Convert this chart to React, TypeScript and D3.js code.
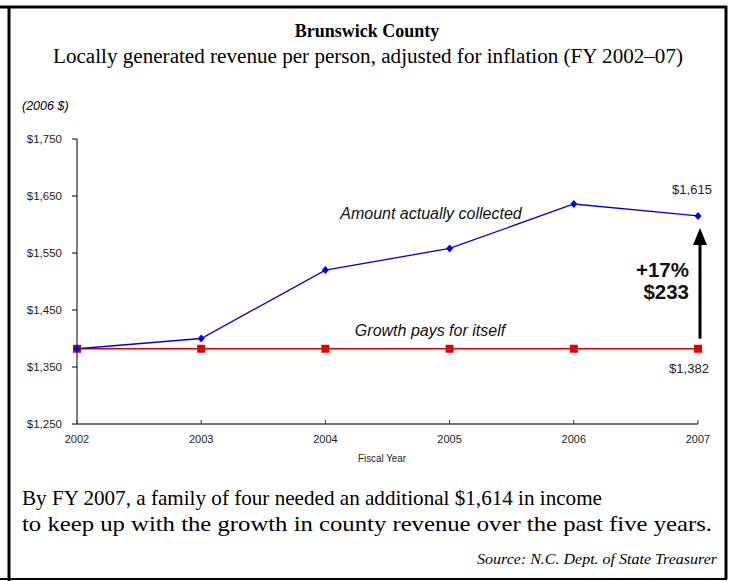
import React from "react";
import * as d3 from "d3";

const years = [2002, 2003, 2004, 2005, 2006, 2007];
const collected = [1382, 1400, 1520, 1558, 1636, 1615];
const baseline = [1382, 1382, 1382, 1382, 1382, 1382];
const yTicks = [1250, 1350, 1450, 1550, 1650, 1750];

const W = 733;
const H = 581;

export default function App() {
  const x = d3.scaleLinear().domain([2002, 2007]).range([77, 698]);
  const y = d3.scaleLinear().domain([1250, 1750]).range([424, 139]);
  const fmt = (v: number) => "$" + d3.format(",")(v);
  const line = d3
    .line<number>()
    .x((_, i) => x(years[i]))
    .y((d) => y(d));
  const serif = "'Liberation Serif', 'Times New Roman', serif";
  const sans = "'Liberation Sans', Arial, sans-serif";
  const arrowX = x(2007) + 2;
  const arrowBottom = y(baseline[5]) - 10;
  const arrowTip = y(collected[5]) + 12;
  const diff = collected[5] - baseline[5];

  return (
    <svg
      width={W}
      height={H}
      style={{ position: "absolute", left: 0, top: 0, background: "#fff" }}
    >
      {/* frame */}
      <line x1={0} y1={7} x2={727} y2={7} stroke="#000" strokeWidth={3} />
      <line x1={0} y1={579} x2={727} y2={579} stroke="#000" strokeWidth={2} />
      <line x1={9} y1={7} x2={9} y2={581} stroke="#000" strokeWidth={3} />
      <line x1={726} y1={6} x2={726} y2={579} stroke="#000" strokeWidth={3} />

      {/* titles */}
      <text x={367} y={37} textAnchor="middle" fontFamily={serif} fontWeight="bold" fontSize={18}>
        Brunswick County
      </text>
      <text x={368} y={63} textAnchor="middle" fontFamily={serif} fontSize={20} textLength={630} lengthAdjust="spacingAndGlyphs">
        Locally generated revenue per person, adjusted for inflation (FY 2002–07)
      </text>
      <text x={22} y={110} fontFamily={sans} fontStyle="italic" fontSize={12.5}>
        (2006 $)
      </text>

      {/* y axis */}
      <line x1={x(2002)} y1={y(1750)} x2={x(2002)} y2={y(1250)} stroke="#000" strokeWidth={1} />
      {yTicks.map((t) => (
        <g key={t}>
          <line x1={x(2002) - 5} x2={x(2002)} y1={y(t)} y2={y(t)} stroke="#000" />
          <text x={62} y={y(t) + 4} textAnchor="end" fontFamily={sans} fontSize={11.5} fill="#222">
            {fmt(t)}
          </text>
        </g>
      ))}

      {/* x axis */}
      <line x1={x(2002) - 5} y1={y(1250)} x2={x(2007)} y2={y(1250)} stroke="#777" strokeWidth={2} />
      {years.map((yr) => (
        <g key={yr}>
          <line x1={x(yr)} x2={x(yr)} y1={y(1250) - 4} y2={y(1250)} stroke="#333" />
          <text x={x(yr)} y={443} textAnchor="middle" fontFamily={sans} fontSize={11} fill="#222">
            {yr}
          </text>
        </g>
      ))}
      <text x={382} y={462} textAnchor="middle" fontFamily={sans} fontSize={10} fill="#222" textLength={48} lengthAdjust="spacingAndGlyphs">
        Fiscal Year
      </text>

      {/* baseline series */}
      <path d={line(baseline) || ""} fill="none" stroke="#e00000" strokeWidth={1.5} />
      {/* collected series */}
      <path d={line(collected) || ""} fill="none" stroke="#0000dd" strokeWidth={1.3} />
      {baseline.map((v, i) => (
        <rect key={"r" + i} x={x(years[i]) - 4} y={y(v) - 4} width={8} height={8} fill="#e00000" />
      ))}
      {collected.map((v, i) => (
        <path
          key={"d" + i}
          d={`M${x(years[i])},${y(v) - 4}L${x(years[i]) + 3.5},${y(v)}L${x(years[i])},${y(v) + 4}L${x(years[i]) - 3.5},${y(v)}Z`}
          fill="#0000dd"
        />
      ))}

      {/* annotations */}
      <text x={431} y={219} textAnchor="middle" fontFamily={sans} fontStyle="italic" fontSize={16} fill="#111">
        Amount actually collected
      </text>
      <text x={430} y={336} textAnchor="middle" fontFamily={sans} fontStyle="italic" fontSize={16} fill="#111">
        Growth pays for itself
      </text>
      <text x={692} y={194} textAnchor="middle" fontFamily={sans} fontSize={13} fill="#222">
        {fmt(collected[5])}
      </text>
      <text x={689} y={373} textAnchor="middle" fontFamily={sans} fontSize={13} fill="#222">
        {fmt(baseline[5])}
      </text>
      <line x1={arrowX} x2={arrowX} y1={arrowBottom} y2={arrowTip + 14} stroke="#000" strokeWidth={3} />
      <path d={`M${arrowX},${arrowTip}L${arrowX + 7},${arrowTip + 17}L${arrowX - 7},${arrowTip + 17}Z`} fill="#000" />
      <text x={689} y={277} textAnchor="end" fontFamily={sans} fontWeight="bold" fontSize={20.5} fill="#111">
        +{Math.round((diff / baseline[5]) * 100)}%
      </text>
      <text x={689} y={299} textAnchor="end" fontFamily={sans} fontWeight="bold" fontSize={20.5} fill="#111">
        {fmt(diff)}
      </text>

      {/* footer */}
      <text x={22} y={505} fontFamily={serif} fontSize={21} textLength={580} lengthAdjust="spacingAndGlyphs">
        By FY 2007, a family of four needed an additional $1,614 in income
      </text>
      <text x={22} y={531} fontFamily={serif} fontSize={21} textLength={690} lengthAdjust="spacingAndGlyphs">
        to keep up with the growth in county revenue over the past five years.
      </text>
      <text x={717} y={564} textAnchor="end" fontFamily={serif} fontStyle="italic" fontSize={15.5} textLength={240} lengthAdjust="spacingAndGlyphs">
        Source: N.C. Dept. of State Treasurer
      </text>
    </svg>
  );
}
